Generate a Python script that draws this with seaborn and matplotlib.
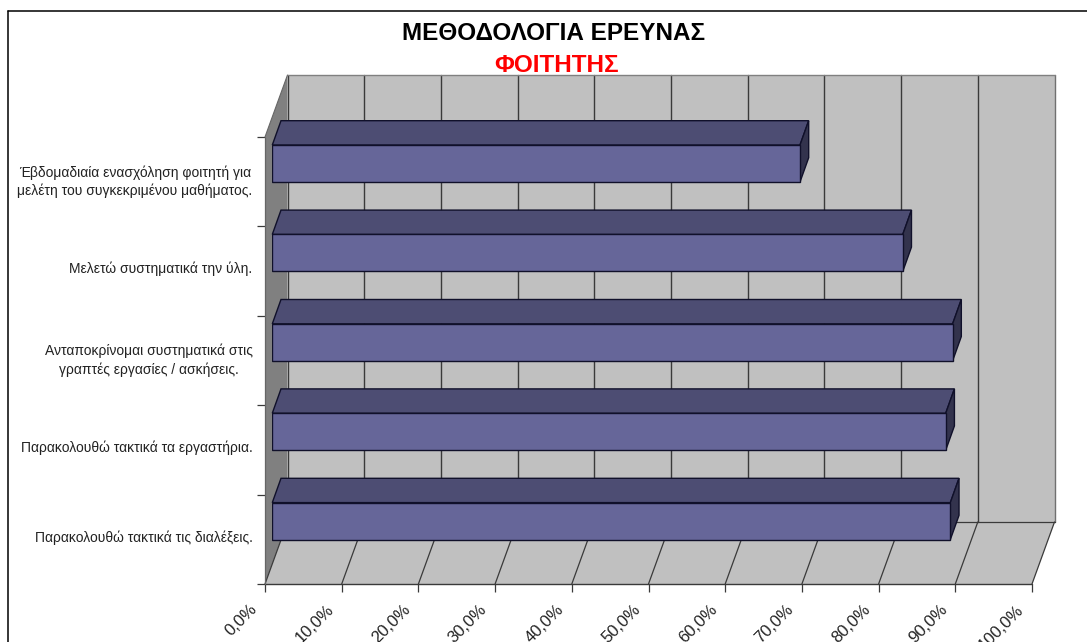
import matplotlib
matplotlib.use("Agg")
import matplotlib.pyplot as plt
from matplotlib.lines import Line2D
from matplotlib.transforms import ScaledTranslation
import seaborn as sns

categories = [
    "Έβδομαδιαία ενασχόληση φοιτητή για\nμελέτη του συγκεκριμένου μαθήματος.",
    "Μελετώ συστηματικά την ύλη.",
    "Ανταποκρίνομαι συστηματικά στις\nγραπτές εργασίες / ασκήσεις.",
    "Παρακολουθώ τακτικά τα εργαστήρια.",
    "Παρακολουθώ τακτικά τις διαλέξεις.",
]
values = [68.8, 82.2, 88.7, 87.8, 88.4]
xticks = [0, 10, 20, 30, 40, 50, 60, 70, 80, 90, 100]
xticklabels = ["0,0%", "10,0%", "20,0%", "30,0%", "40,0%", "50,0%",
               "60,0%", "70,0%", "80,0%", "90,0%", "100,0%"]
title = "ΜΕΘΟΔΟΛΟΓΙΑ ΕΡΕΥΝΑΣ"
subtitle = "ΦΟΙΤΗΤΗΣ"

W, H = 1087, 642
sns.set_theme(style="white")
plt.rcParams["font.family"] = ["Liberation Sans", "DejaVu Sans"]
fig = plt.figure(figsize=(W / 100, H / 100), dpi=100, facecolor="white")


def axes_px(left, right, top, bottom, **kw):
    return fig.add_axes([left / W, 1 - bottom / H, (right - left) / W, (bottom - top) / H], **kw)


X0, X1, YT, YB = 265, 1032, 137, 584
PX = (X1 - X0) / 100
PY = (YB - YT) / 5
WX, WY = 22.5 / PX, 62 / PY      # wall depth in data units
BX, BY = 8.7 / PX, 24.3 / PY     # bar depth in data units
ytop, ybot = -0.5, 4.5

ax = axes_px(X0, X1, YT, YB)
ax.set_xlim(0, 100)
ax.set_ylim(ybot, ytop)
ax.patch.set_visible(False)
for s in ax.spines.values():
    s.set_visible(False)

wall = "#c0c0c0"
edge = "#3a3a3a"
kw = dict(clip_on=False)
# left wall, back wall, floor
ax.fill([0, WX, WX, 0], [ybot, ybot - WY, ytop - WY, ytop], color="#808080", lw=0, **kw)
ax.fill([WX, 100 + WX, 100 + WX, WX], [ybot - WY, ybot - WY, ytop - WY, ytop - WY], color=wall, lw=0, **kw)
ax.fill([0, 100, 100 + WX, WX], [ybot, ybot, ybot - WY, ybot - WY], color=wall, lw=0, **kw)
for t in xticks:
    ax.plot([t + WX, t + WX], [ytop - WY, ybot - WY], color=edge if t < 100 else "#707070", lw=1.0, **kw)
    ax.plot([t, t + WX], [ybot, ybot - WY], color=edge, lw=0.9, **kw)
ax.plot([WX, 100 + WX], [ybot - WY, ybot - WY], color=edge, lw=0.9, **kw)
ax.plot([WX, 100 + WX], [ytop - WY, ytop - WY], color="#808080", lw=1.0, **kw)
ax.plot([0, 100], [ybot, ybot], color=edge, lw=1.0, **kw)
ax.plot([0, 0], [ybot, ytop], color="#666666", lw=0.9, **kw)
ax.plot([0, WX], [ytop, ytop - WY], color="#666666", lw=0.8, **kw)

ax.set_xticks(xticks)
ax.set_xticklabels(xticklabels, rotation=45, ha="right", va="top",
                   rotation_mode="anchor", fontsize=12, color="#222222")
ax.set_yticks([i - 0.5 for i in range(6)])
ax.set_yticklabels([])
ax.set_yticks(range(5), categories, minor=True, fontsize=10, color="#222222",
              multialignment="center", linespacing=1.35)
ax.tick_params(axis="x", which="major", bottom=True, length=5.8, width=0.9, color=edge, pad=7)
ax.tick_params(axis="y", which="major", left=True, length=5.8, width=0.9, color=edge)
ax.tick_params(axis="y", which="minor", left=False, length=0, pad=9)

xshift = ScaledTranslation(-16 / 100, 0, fig.dpi_scale_trans)
for lab in ax.get_xticklabels():
    lab.set_transform(lab.get_transform() + xshift)
yshift = ScaledTranslation(0, 3.5 / 100, fig.dpi_scale_trans)
for lab in ax.get_yticklabels(minor=True):
    lab.set_transform(lab.get_transform() + yshift)

# Bars sit part-way into the depth of the box
ax2 = axes_px(X0 + 7.3, X1 + 7.3, YT - 18.2, YB - 18.2)
sns.barplot(x=values, y=categories, orient="h", ax=ax2, color="#666699", saturation=1,
            width=37 / PY, edgecolor="#10102a", linewidth=1.0, zorder=5)
ax2.set_xlim(0, 100)
ax2.set_ylim(ybot, ytop)
ax2.axis("off")
for bar in ax2.patches:
    x, y, w, h = bar.get_x(), bar.get_y(), bar.get_width(), bar.get_height()
    ec = dict(edgecolor="#10102a", linewidth=1.0, clip_on=False, zorder=4)
    ax2.fill([x, x + w, x + w + BX, x + BX], [y, y, y - BY, y - BY], facecolor="#4d4d73", **ec)
    ax2.fill([x + w, x + w + BX, x + w + BX, x + w], [y, y - BY, y + h - BY, y + h], facecolor="#33334d", **ec)

# Chart frame: open at the right and at the bottom of the picture
fig.add_artist(Line2D([7.5 / W, 7.5 / W], [0, 1 - 11 / H], color="black", lw=1.1))
fig.add_artist(Line2D([7.5 / W, 1], [1 - 11 / H, 1 - 11 / H], color="black", lw=1.1))

fig.text(553.5 / W, 1 - 33 / H, title, ha="center", va="center", fontsize=17.5, fontweight="bold", color="black")
fig.text(556.5 / W, 1 - 65 / H, subtitle, ha="center", va="center", fontsize=17.5, fontweight="bold", color="#ff0000")

fig.savefig("out.png", dpi=100)
